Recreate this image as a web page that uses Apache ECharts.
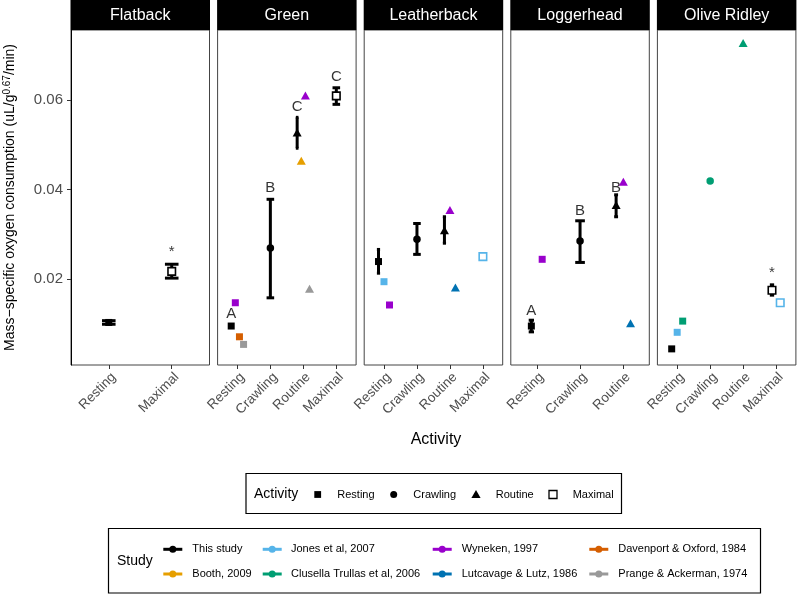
<!DOCTYPE html>
<html><head><meta charset="utf-8">
<script src="https://cdn.jsdelivr.net/npm/echarts@6/dist/echarts.min.js"></script>
<style>html,body{margin:0;padding:0;background:#fff}#c{width:799px;height:594px}</style>
</head><body><div id="c"></div>
<script>
// ---------------- DATA ----------------
const species = ['Flatback', 'Green', 'Leatherback', 'Loggerhead', 'Olive Ridley'];
const panelActivities = [
  ['Resting', 'Maximal'],
  ['Resting', 'Crawling', 'Routine', 'Maximal'],
  ['Resting', 'Crawling', 'Routine', 'Maximal'],
  ['Resting', 'Crawling', 'Routine'],
  ['Resting', 'Crawling', 'Routine', 'Maximal']
];
const activityNames = ['Resting', 'Crawling', 'Routine', 'Maximal'];
const studies = ['This study', 'Booth, 2009', 'Jones et al, 2007', 'Clusella Trullas et al, 2006',
  'Wyneken, 1997', 'Lutcavage & Lutz, 1986', 'Davenport & Oxford, 1984', 'Prange & Ackerman, 1974'];
const studyColors = ['#000000', '#E69F00', '#56B4E9', '#009E73', '#9900CC', '#0072B2', '#D55E00', '#999999'];
const yTicks = [0.02, 0.04, 0.06];

// This study: means with error bars and significance letters
const thisSpecies  = ['Flatback','Flatback','Green','Green','Green','Green','Leatherback','Leatherback','Leatherback','Loggerhead','Loggerhead','Loggerhead','Olive Ridley','Olive Ridley'];
const thisActivity = ['Resting','Maximal','Resting','Crawling','Routine','Maximal','Resting','Crawling','Routine','Resting','Crawling','Routine','Resting','Maximal'];
const thisMean     = [0.0103, 0.0217, 0.0095, 0.0269, 0.0527, 0.0609, 0.0239, 0.0289, 0.0309, 0.0095, 0.0285, 0.0365, 0.0044, 0.0175];
const thisLower    = [0.0099, 0.0202, null,   0.0158, 0.0492, 0.0590, 0.0213, 0.0255, 0.0280, 0.0082, 0.0237, 0.0339, null,   0.0164];
const thisUpper    = [0.0107, 0.0233, null,   0.0378, 0.0561, 0.0627, 0.0266, 0.0324, 0.0339, 0.0108, 0.0330, 0.0388, null,   0.0187];
const thisLetter   = ['',     '*',    'A',    'B',    'C',    'C',    '',     '',     '',     'A',    'B',    'B',    '',     '*'];
const thisLetterY  = [null,   0.0260, 0.0123, 0.0403, 0.0584, 0.0652, null,   null,   null,   0.0129, 0.0353, 0.0403, null,   0.0213];

// Literature values
const litSpecies  = ['Green','Green','Green','Green','Green','Green','Leatherback','Leatherback','Leatherback','Leatherback','Leatherback','Loggerhead','Loggerhead','Loggerhead','Olive Ridley','Olive Ridley','Olive Ridley','Olive Ridley','Olive Ridley'];
const litActivity = ['Resting','Resting','Resting','Routine','Routine','Routine','Resting','Resting','Routine','Routine','Maximal','Resting','Routine','Routine','Resting','Resting','Crawling','Routine','Maximal'];
const litStudy    = ['Wyneken, 1997','Davenport & Oxford, 1984','Prange & Ackerman, 1974','Booth, 2009','Wyneken, 1997','Prange & Ackerman, 1974','Jones et al, 2007','Wyneken, 1997','Wyneken, 1997','Lutcavage & Lutz, 1986','Jones et al, 2007','Wyneken, 1997','Wyneken, 1997','Lutcavage & Lutz, 1986','Jones et al, 2007','Clusella Trullas et al, 2006','Clusella Trullas et al, 2006','Clusella Trullas et al, 2006','Jones et al, 2007'];
const litValue    = [0.0147, 0.0071, 0.0054, 0.0464, 0.0610, 0.0178, 0.0194, 0.0142, 0.0354, 0.0181, 0.0250, 0.0244, 0.0417, 0.0101, 0.0081, 0.0106, 0.0419, 0.0727, 0.0147];

// ---------------- BUILD ----------------
const FONT = '"Liberation Sans", Arial, Helvetica, sans-serif';
const Y_MIN = 0.0008, Y_MAX = 0.0756;
const P_LEFT = 71, P_STEP = 146.6, P_W = 138.5, P_TOP = 30, P_H = 335;
const DODGE = 0.5, ERR_W = 0.2;

const entries = [];
thisSpecies.forEach((s, i) => entries.push({sp: s, act: thisActivity[i], study: 'This study', v: thisMean[i], lo: thisLower[i], hi: thisUpper[i], letter: thisLetter[i], ly: thisLetterY[i]}));
litSpecies.forEach((s, i) => entries.push({sp: s, act: litActivity[i], study: litStudy[i], v: litValue[i]}));

// position_dodge
const groups = {};
entries.forEach(e => { const k = e.sp + '|' + e.act; (groups[k] = groups[k] || []).push(e); });
Object.values(groups).forEach(arr => {
  arr.sort((a, b) => studies.indexOf(a.study) - studies.indexOf(b.study));
  const n = arr.length;
  arr.forEach((e, i) => { e.n = n; e.off = (i - (n - 1) / 2) * DODGE / n; });
});

const symbolFor = {
  Resting: {symbol: 'rect', size: 7},
  Crawling: {symbol: 'circle', size: 7.5},
  Routine: {symbol: 'triangle', size: [9, 8]},
  Maximal: {symbol: 'rect', size: 7.5}
};

const grids = [], xAxes = [], yAxes = [], series = [], graphics = [];
species.forEach((sp, g) => {
  const cats = panelActivities[g];
  const idx = cats.map((c, i) => i);
  grids.push({left: P_LEFT + g * P_STEP, top: P_TOP, width: P_W, height: P_H, show: true,
    borderColor: '#444', borderWidth: 1, backgroundColor: '#fff'});
  xAxes.push({type: 'value', gridIndex: g, min: -0.6, max: cats.length - 0.4,
    axisLine: {show: false, onZero: false}, splitLine: {show: false},
    axisTick: {show: true, customValues: idx, length: 4, lineStyle: {color: '#333'}},
    axisLabel: {show: true, customValues: idx, formatter: v => cats[Math.round(v)] || '',
      rotate: 45, fontSize: 13.5, color: '#4D4D4D', fontFamily: FONT, margin: 5,
      align: 'right', verticalAlign: 'top'}});
  const ya = {type: 'value', gridIndex: g, min: Y_MIN, max: Y_MAX, splitLine: {show: false},
    axisLine: {show: g === 0, onZero: false, lineStyle: {color: '#000', width: 1}},
    axisTick: {show: g === 0, customValues: yTicks, length: 4, lineStyle: {color: '#333'}},
    axisLabel: {show: g === 0, customValues: yTicks, formatter: v => v.toFixed(2), fontSize: 15,
      color: '#4D4D4D', fontFamily: FONT, margin: 8}};
  if (g === 0) {
    ya.name = '{a|Mass−specific oxygen consumption (uL/g}{s|0.67}{a|/min)}';
    ya.nameLocation = 'middle';
    ya.nameRotate = 90;
    ya.nameGap = 52;
    ya.nameTextStyle = {rich: {
      a: {fontSize: 14, fontFamily: FONT, color: '#000'},
      s: {fontSize: 10, fontFamily: FONT, color: '#000', verticalAlign: 'top', padding: [0, 0, 7, 0]}
    }};
  }
  yAxes.push(ya);

  const pe = entries.filter(e => e.sp === sp);
  pe.forEach(e => { e.x = cats.indexOf(e.act) + e.off; });

  // error bars
  const eb = pe.filter(e => e.study === 'This study' && e.lo != null);
  series.push({type: 'custom', xAxisIndex: g, yAxisIndex: g, z: 2,
    data: eb.map(e => [e.x, e.lo, e.hi, ERR_W / e.n / 2]),
    renderItem: (params, api) => {
      const x = api.value(0), lo = api.value(1), hi = api.value(2), hw = api.value(3);
      const a = api.coord([x, lo]), b = api.coord([x, hi]);
      const l = api.coord([x - hw, lo])[0], r = api.coord([x + hw, lo])[0];
      const st = {stroke: '#000', lineWidth: 3};
      return {type: 'group', children: [
        {type: 'line', shape: {x1: a[0], y1: a[1], x2: b[0], y2: b[1]}, style: st},
        {type: 'line', shape: {x1: l - 0.5, y1: a[1], x2: r + 0.5, y2: a[1]}, style: st},
        {type: 'line', shape: {x1: l - 0.5, y1: b[1], x2: r + 0.5, y2: b[1]}, style: st}
      ]};
    }});

  // points per study
  studies.forEach((st, si) => {
    const pts = pe.filter(e => e.study === st);
    if (!pts.length) return;
    const col = studyColors[si];
    series.push({type: 'scatter', name: st, xAxisIndex: g, yAxisIndex: g, z: 3,
      data: pts.map(e => {
        const sy = symbolFor[e.act];
        const item = {value: [e.x, e.v], symbol: sy.symbol, symbolSize: sy.size,
          itemStyle: {color: col, opacity: 1}};
        if (e.act === 'Maximal') item.itemStyle = {color: '#fff', borderColor: col, borderWidth: 1.6, opacity: 1};
        return item;
      })});
  });

  // letters
  const lt = pe.filter(e => e.letter);
  if (lt.length) series.push({type: 'scatter', xAxisIndex: g, yAxisIndex: g, z: 4, symbolSize: 0, silent: true,
    data: lt.map(e => ({name: e.letter, value: [e.x, e.ly]})),
    label: {show: true, position: 'inside', formatter: '{b}', color: '#000', fontSize: 15, fontFamily: FONT}});

  // strip
  const gl = P_LEFT + g * P_STEP;
  graphics.push({type: 'rect', shape: {x: gl - 0.5, y: 0, width: P_W + 1, height: P_TOP}, style: {fill: '#000'}});
  graphics.push({type: 'text', x: gl + P_W / 2, y: P_TOP / 2 + 1, style: {text: sp, fill: '#fff', font: '16px ' + FONT, align: 'center', verticalAlign: 'middle'}});
});

// x axis title
graphics.push({type: 'text', x: 436, y: 440, style: {text: 'Activity', fill: '#000', font: '16px ' + FONT, align: 'center', verticalAlign: 'middle'}});

// Activity legend
graphics.push({type: 'rect', shape: {x: 246, y: 473.5, width: 375.5, height: 40}, style: {fill: 'none', stroke: '#000', lineWidth: 1.2}});
graphics.push({type: 'text', x: 254, y: 494.5, style: {text: 'Activity', fill: '#000', font: '14px ' + FONT, align: 'left', verticalAlign: 'middle'}});
const actLegX = [317.7, 393.7, 476, 553], actTxtX = [337.3, 413.3, 495.7, 572.7];
activityNames.forEach((a, i) => {
  const cx = actLegX[i], cy = 494.5;
  if (a === 'Resting') graphics.push({type: 'rect', shape: {x: cx - 3.4, y: cy - 3.4, width: 6.8, height: 6.8}, style: {fill: '#000'}});
  if (a === 'Crawling') graphics.push({type: 'circle', shape: {cx: cx, cy: cy, r: 3.5}, style: {fill: '#000'}});
  if (a === 'Routine') graphics.push({type: 'polygon', shape: {points: [[cx, cy - 4.5], [cx + 4.6, cy + 3.5], [cx - 4.6, cy + 3.5]]}, style: {fill: '#000'}});
  if (a === 'Maximal') graphics.push({type: 'rect', shape: {x: cx - 4, y: cy - 4, width: 8, height: 8}, style: {fill: '#fff', stroke: '#000', lineWidth: 1.3}});
  graphics.push({type: 'text', x: actTxtX[i], y: cy, style: {text: a, fill: '#000', font: '11px ' + FONT, align: 'left', verticalAlign: 'middle'}});
});

// Study legend
graphics.push({type: 'rect', shape: {x: 108.5, y: 528.5, width: 652, height: 64.5}, style: {fill: 'none', stroke: '#000', lineWidth: 1.2}});
graphics.push({type: 'text', x: 117, y: 561.5, style: {text: 'Study', fill: '#000', font: '14px ' + FONT, align: 'left', verticalAlign: 'middle'}});
const colKeyX = [163.3, 262.7, 432.7, 589.3], colTxtX = [192.3, 291, 461.7, 618.3], rowY = [549.3, 574];
studies.forEach((st, i) => {
  const c = Math.floor(i / 2), r = i % 2;
  const x0 = colKeyX[c], y0 = rowY[r];
  graphics.push({type: 'line', shape: {x1: x0, y1: y0, x2: x0 + 19, y2: y0}, style: {stroke: studyColors[i], lineWidth: 3}});
  graphics.push({type: 'circle', shape: {cx: x0 + 9.5, cy: y0, r: 3.5}, style: {fill: studyColors[i]}});
  graphics.push({type: 'text', x: colTxtX[c], y: y0, style: {text: st, fill: '#000', font: '11px ' + FONT, align: 'left', verticalAlign: 'middle'}});
});

const chart = echarts.init(document.getElementById('c'), null, {renderer: 'canvas'});
chart.setOption({
  animation: false,
  backgroundColor: '#fff',
  textStyle: {fontFamily: FONT},
  grid: grids, xAxis: xAxes, yAxis: yAxes, series: series, graphic: graphics
});
</script></body></html>
